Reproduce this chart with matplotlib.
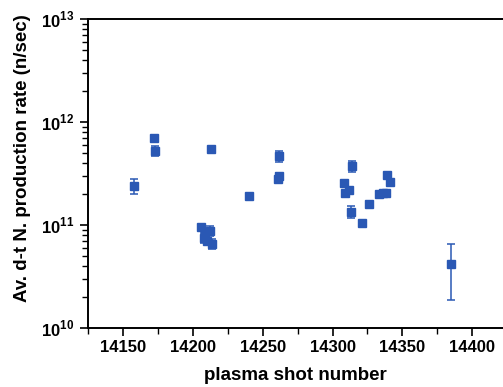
import matplotlib.pyplot as plt
from matplotlib.ticker import FixedLocator, LogLocator, NullFormatter, MultipleLocator

plt.rcParams['font.family'] = 'Liberation Sans'
plt.rcParams['font.weight'] = 'bold'
plt.rcParams['mathtext.fontset'] = 'custom'
plt.rcParams['mathtext.rm'] = 'Liberation Sans:bold'
plt.rcParams['mathtext.bf'] = 'Liberation Sans:bold'

# shot number, average d-t neutron rate (units of 1e11 n/s) and its error
shots = [14158, 14172, 14173, 14213, 14206, 14209, 14212, 14208, 14210, 14214,
         14240, 14262, 14262, 14261, 14308, 14309, 14312, 14314, 14313, 14321,
         14326, 14333, 14336, 14338, 14339, 14341, 14385]
rate = [2.39, 6.95, 5.26, 5.43, 0.96, 0.855, 0.88, 0.75, 0.70, 0.655,
        1.91, 4.68, 2.99, 2.80, 2.54, 2.03, 2.19, 3.74, 1.35, 1.05,
        1.60, 2.01, 2.03, 2.06, 3.06, 2.63, 0.418]
err = [0.38, 0.0, 0.6, 0.0, 0.0, 0.0, 0.1, 0.08, 0.0, 0.07,
       0.0, 0.6, 0.2, 0.0, 0.0, 0.0, 0.0, 0.45, 0.17, 0.0,
       0.0, 0.0, 0.12, 0.0, 0.0, 0.0, 0.23]

y = [r * 1e11 for r in rate]
yerr = [e * 1e11 for e in err]

blue = '#2a58b4'

fig = plt.figure(figsize=(5.03, 3.87), dpi=100)
ax = fig.add_axes([0.175, 0.1525, 0.825, 0.7985])

ax.errorbar(shots, y, yerr=yerr, fmt='s', color=blue, ms=5.8,
            elinewidth=1.1, capsize=3, capthick=1.1, ecolor=blue)

ax.set_yscale('log')
ax.set_ylim(1e10, 1e13)
ax.set_xlim(14125, 14422)

ax.xaxis.set_major_locator(FixedLocator([14150, 14200, 14250, 14300, 14350, 14400]))
ax.xaxis.set_minor_locator(MultipleLocator(25))
ax.yaxis.set_major_locator(FixedLocator([1e10, 1e11, 1e12, 1e13]))
ax.yaxis.set_minor_locator(LogLocator(base=10, subs=range(2, 10)))
ax.yaxis.set_minor_formatter(NullFormatter())
ax.set_yticklabels([r'$10^{10}$', r'$10^{11}$', r'$10^{12}$', r'$10^{13}$'])

ax.spines['right'].set_visible(False)
for s in ('left', 'bottom', 'top'):
    ax.spines[s].set_linewidth(1.4)

ax.tick_params(axis='both', which='major', direction='out', length=6, width=1.2,
               labelsize=12)
ax.tick_params(axis='both', which='minor', direction='out', length=4, width=1.0)
ax.tick_params(axis='x', pad=3)
ax.tick_params(axis='y', pad=4)

ax.set_xlabel('plasma shot number', fontsize=13.5, fontweight='bold', labelpad=8)
ax.set_ylabel('Av. d-t N. production rate (n/sec)', fontsize=13.5,
              fontweight='bold')
ax.yaxis.set_label_coords(-0.137, 0.55)

fig.savefig('out.png', dpi=100)
